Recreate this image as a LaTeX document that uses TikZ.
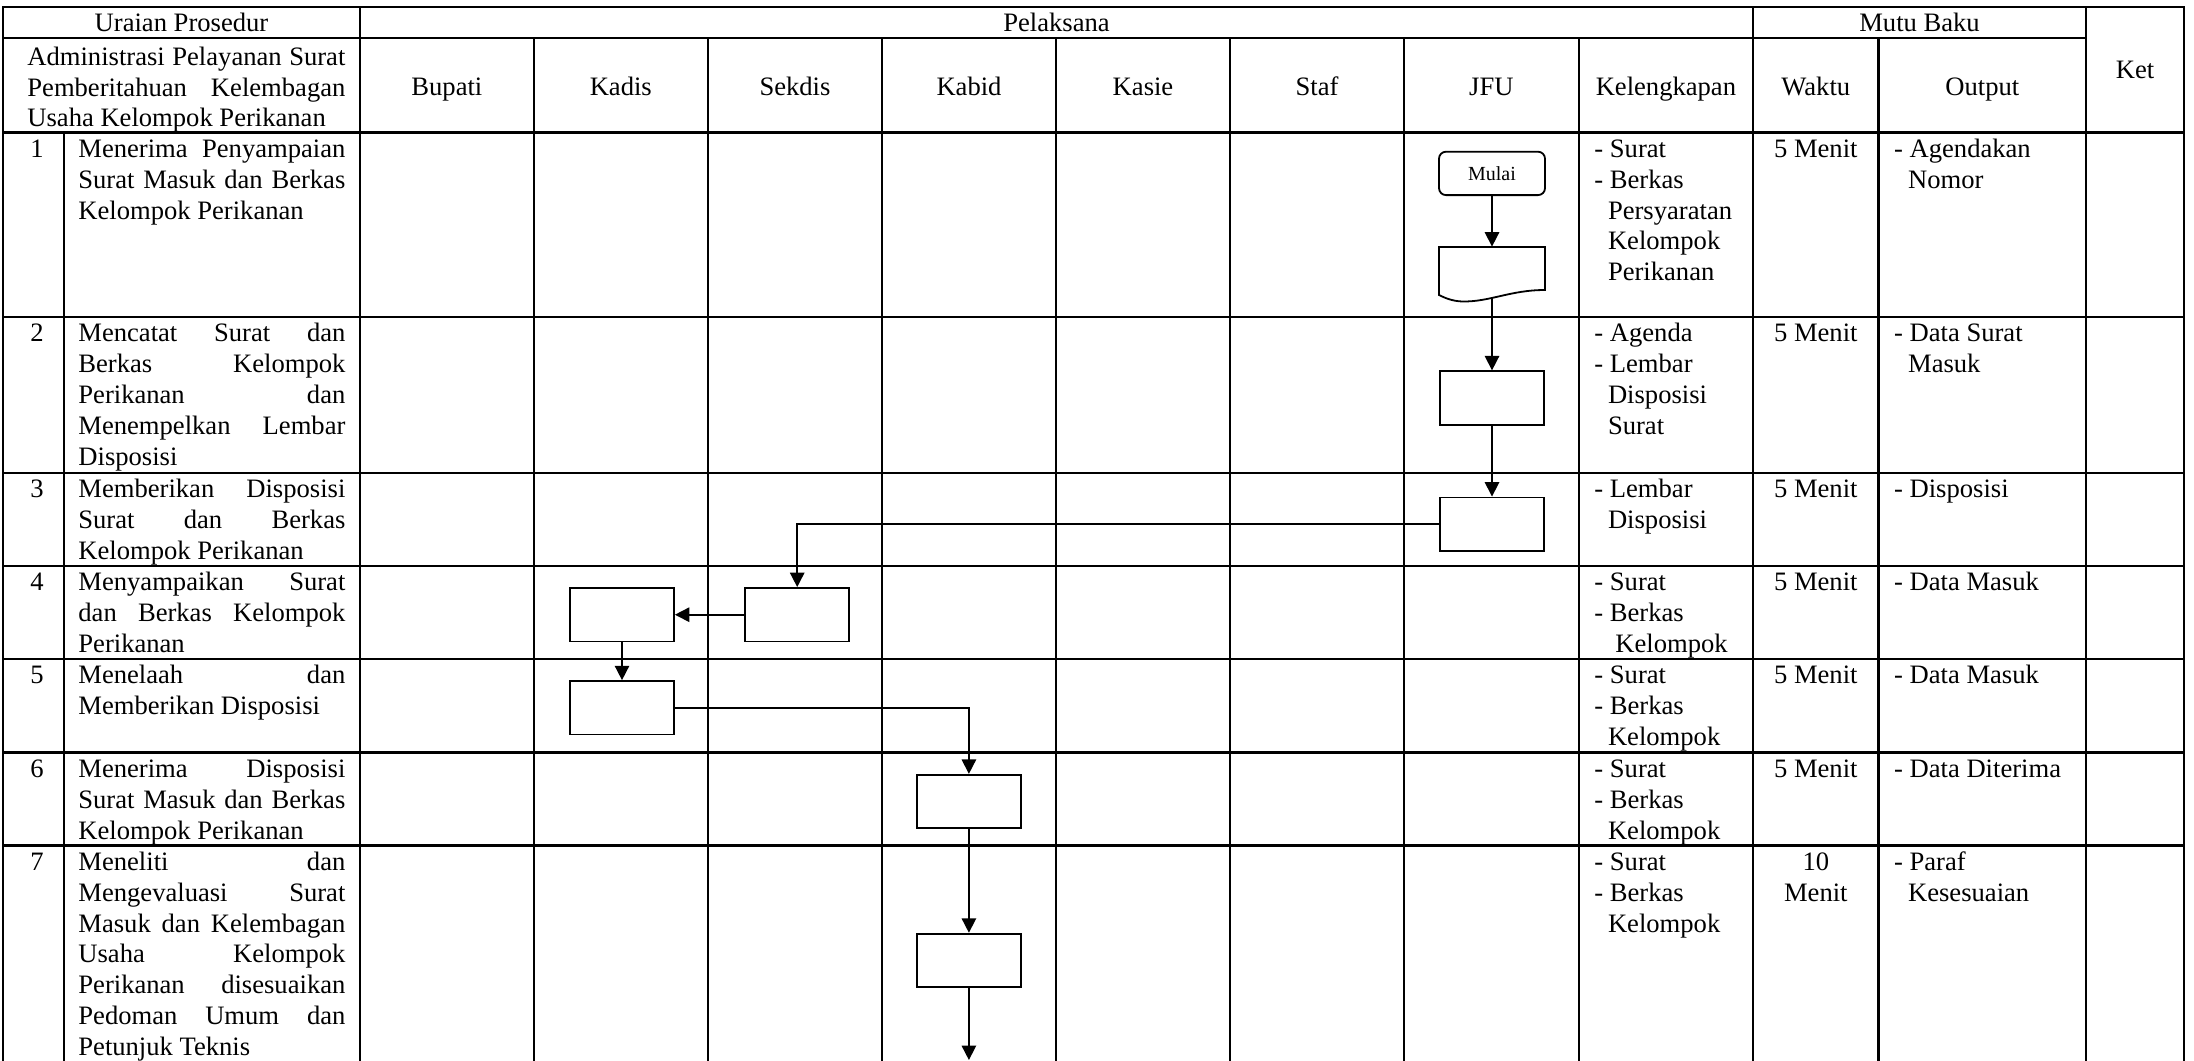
\documentclass[tikz,border=0pt]{standalone}
\usepackage{fontspec}
\setmainfont{Liberation Serif}
\usetikzlibrary{arrows.meta}
\newcommand\fsz{\fontsize{13.3pt}{15.4pt}\selectfont}
\newcommand\fsm{\fontsize{10pt}{12pt}\selectfont}
\newlength\urw \setlength\urw{133.5pt}
\newlength\hdw \setlength\hdw{159pt}
% justified lines of the procedure column (font spacing restored so it can stretch)
\newcommand\jr[1]{{\spaceskip=0pt\xspaceskip=0pt\makebox[\urw][s]{#1}}}
\newcommand\jh[1]{{\spaceskip=0pt\xspaceskip=0pt\makebox[\hdw][s]{#1}}}
\begin{document}
\begin{tikzpicture}[x=0.5pt,y=-0.5pt,
  grid/.style={line width=1.1pt, line cap=rect},
  txt/.style={inner sep=0pt, font=\fsz},
  para/.style={txt, anchor=north west, align=left,
    execute at begin node={\spaceskip=0pt\xspaceskip=0pt}},
  urpara/.style={para, text width=\urw},
  colpara/.style={para, text width=96pt},
  lbl/.style={txt, anchor=base},
  procbox/.style={draw, line width=0.9pt, minimum width=52pt, minimum height=26.75pt, inner sep=0pt},
  flow/.style={line width=0.8pt, -{Triangle[length=7.2pt,width=7.2pt]}},
]
\fill[white] (0,0) rectangle (2194,1060);
\useasboundingbox (0,0) rectangle (2194,1060);

% table grid
\draw[grid] (3,7) -- (2184,7);
\draw[grid] (3,38) -- (2086,38);
\foreach \y in {132.5,317,473,566,659,752.5,845.5} \draw[grid] (3,\y) -- (2184,\y);
\foreach \x in {3,360,1753,2086,2184} \draw[grid] (\x,7) -- (\x,1060);
\draw[grid] (64,132.5) -- (64,1060);
\foreach \x in {533.7,707.9,882,1056,1230,1404,1578.7,1878.5} \draw[grid] (\x,38) -- (\x,1060);

% header
\node[lbl] (hUraian) at (181.5,31.7) {Uraian Prosedur};
\node[lbl] (hPelaksana) at (1056.5,31.7) {Pelaksana};
\node[lbl] (hMutu) at (1919.5,31.7) {Mutu Baku};
\node[lbl] (hKet) at (2135,78.3) {Ket};
\node[para, text width=\hdw] (hAdm) at (27,43.4)
  {\jh{\strut Administrasi Pelayanan Surat}\\ \jh{Pemberitahuan Kelembagan}\\ Usaha Kelompok Perikanan};
\node[lbl] (hBupati) at (446.9,95) {Bupati};
\node[lbl] (hKadis) at (620.8,95) {Kadis};
\node[lbl] (hSekdis) at (795,95) {Sekdis};
\node[lbl] (hKabid) at (969,95) {Kabid};
\node[lbl] (hKasie) at (1143,95) {Kasie};
\node[lbl] (hStaf) at (1317,95) {Staf};
\node[lbl] (hJFU) at (1491.4,95) {JFU};
\node[lbl] (hKel) at (1665.9,95) {Kelengkapan};
\node[lbl] (hWaktu) at (1815.8,95) {Waktu};
\node[lbl] (hOutput) at (1982.3,95) {Output};

% step numbers
\node[lbl] (n1) at (37,157) {1};
\node[lbl] (n2) at (37,341.5) {2};
\node[lbl] (n3) at (37,497.5) {3};
\node[lbl] (n4) at (37,590.5) {4};
\node[lbl] (n5) at (37,683.5) {5};
\node[lbl] (n6) at (37,777) {6};
\node[lbl] (n7) at (37,870) {7};

% procedure descriptions
\node[urpara] (u1) at (78,135.44) {\jr{\strut Menerima Penyampaian}\\ \jr{Surat Masuk dan Berkas}\\ Kelompok Perikanan};
\node[urpara] (u2) at (78,319.94) {\jr{\strut Mencatat Surat dan}\\ \jr{Berkas Kelompok}\\ \jr{Perikanan dan}\\ \jr{Menempelkan Lembar}\\ Disposisi};
\node[urpara] (u3) at (78,475.94) {\jr{\strut Memberikan Disposisi}\\ \jr{Surat dan Berkas}\\ Kelompok Perikanan};
\node[urpara] (u4) at (78,568.94) {\jr{\strut Menyampaikan Surat}\\ \jr{dan Berkas Kelompok}\\ Perikanan};
\node[urpara] (u5) at (78,661.94) {\jr{\strut Menelaah dan}\\ Memberikan Disposisi};
\node[urpara] (u6) at (78,755.44) {\jr{\strut Menerima Disposisi}\\ \jr{Surat Masuk dan Berkas}\\ Kelompok Perikanan};
\node[urpara] (u7) at (78,848.44) {\jr{\strut Meneliti dan}\\ \jr{Mengevaluasi Surat}\\ \jr{Masuk dan Kelembagan}\\ \jr{Usaha Kelompok}\\ \jr{Perikanan disesuaikan}\\ \jr{Pedoman Umum dan}\\ Petunjuk Teknis};

% kelengkapan
\node[colpara] (k1) at (1594,135.44) {\strut - Surat\\- Berkas\\\hspace*{6.8pt}Persyaratan\\\hspace*{6.8pt}Kelompok\\\hspace*{6.8pt}Perikanan};
\node[colpara] (k2) at (1594,319.94) {\strut - Agenda\\- Lembar\\\hspace*{6.8pt}Disposisi\\\hspace*{6.8pt}Surat};
\node[colpara] (k3) at (1594,475.94) {\strut - Lembar\\\hspace*{6.8pt}Disposisi};
\node[colpara] (k4) at (1594,568.94) {\strut - Surat\\- Berkas\\\hspace*{10.5pt}Kelompok};
\node[colpara] (k5) at (1594,661.94) {\strut - Surat\\- Berkas\\\hspace*{6.8pt}Kelompok};
\node[colpara] (k6) at (1594,755.44) {\strut - Surat\\- Berkas\\\hspace*{6.8pt}Kelompok};
\node[colpara] (k7) at (1594,848.44) {\strut - Surat\\- Berkas\\\hspace*{6.8pt}Kelompok};

% waktu
\node[lbl] (w1) at (1815.8,157) {5 Menit};
\node[lbl] (w2) at (1815.8,341.5) {5 Menit};
\node[lbl] (w3) at (1815.8,497.5) {5 Menit};
\node[lbl] (w4) at (1815.8,590.5) {5 Menit};
\node[lbl] (w5) at (1815.8,683.5) {5 Menit};
\node[lbl] (w6) at (1815.8,777) {5 Menit};
\node[txt, anchor=north, align=center] (w7) at (1815.8,848.44) {\strut 10\\Menit};

% output
\node[colpara] (o1) at (1893.7,135.44) {\strut - Agendakan\\\hspace*{7pt}Nomor};
\node[colpara] (o2) at (1893.7,319.94) {\strut - Data Surat\\\hspace*{7pt}Masuk};
\node[colpara] (o3) at (1893.7,475.94) {\strut - Disposisi};
\node[colpara] (o4) at (1893.7,568.94) {\strut - Data Masuk};
\node[colpara] (o5) at (1893.7,661.94) {\strut - Data Masuk};
\node[colpara] (o6) at (1893.7,755.44) {\strut - Data Diterima};
\node[colpara] (o7) at (1893.7,848.44) {\strut - Paraf\\\hspace*{7pt}Kesesuaian};

% flowchart symbols
\node[draw, rounded corners=3.5pt, line width=0.9pt, minimum width=53pt, minimum height=21.7pt,
      inner sep=0pt, font=\fsm] (mulai) at (1492,173.4) {Mulai};
\node[minimum width=53pt, minimum height=25pt, inner sep=0pt] (doc) at (1492,272) {};
\draw[line width=0.9pt] (1439,247) -- (1545,247) -- (1545,290)
  .. controls (1510,290) and (1490,302) .. (1462,301.5)
  .. controls (1452,301) and (1445,298) .. (1439,295) -- cycle;
\node[procbox] (b2) at (1492,398) {};
\node[procbox] (b3) at (1492,524.2) {};
\node[procbox] (b4s) at (797.2,614.7) {};
\node[procbox] (b4k) at (622,614.7) {};
\node[procbox] (b5) at (622,707.8) {};
\node[procbox] (b6) at (968.9,801.5) {};
\node[procbox] (b7) at (968.9,960.4) {};
\coordinate (flowend) at (968.9,1060);

% connectors
\draw[flow] (mulai.south) -- (doc.north);
\draw[flow] (doc.south) -- (b2.north);
\draw[flow] (b2.south) -- (b3.north);
\draw[flow] (b3.west) -| (b4s.north);
\draw[flow] (b4s.west) -- (b4k.east);
\draw[flow] (b4k.south) -- (b5.north);
\draw[flow] (b5.east) -| (b6.north);
\draw[flow] (b6.south) -- (b7.north);
\draw[flow] (b7.south) -- (flowend);
\end{tikzpicture}
\end{document}
